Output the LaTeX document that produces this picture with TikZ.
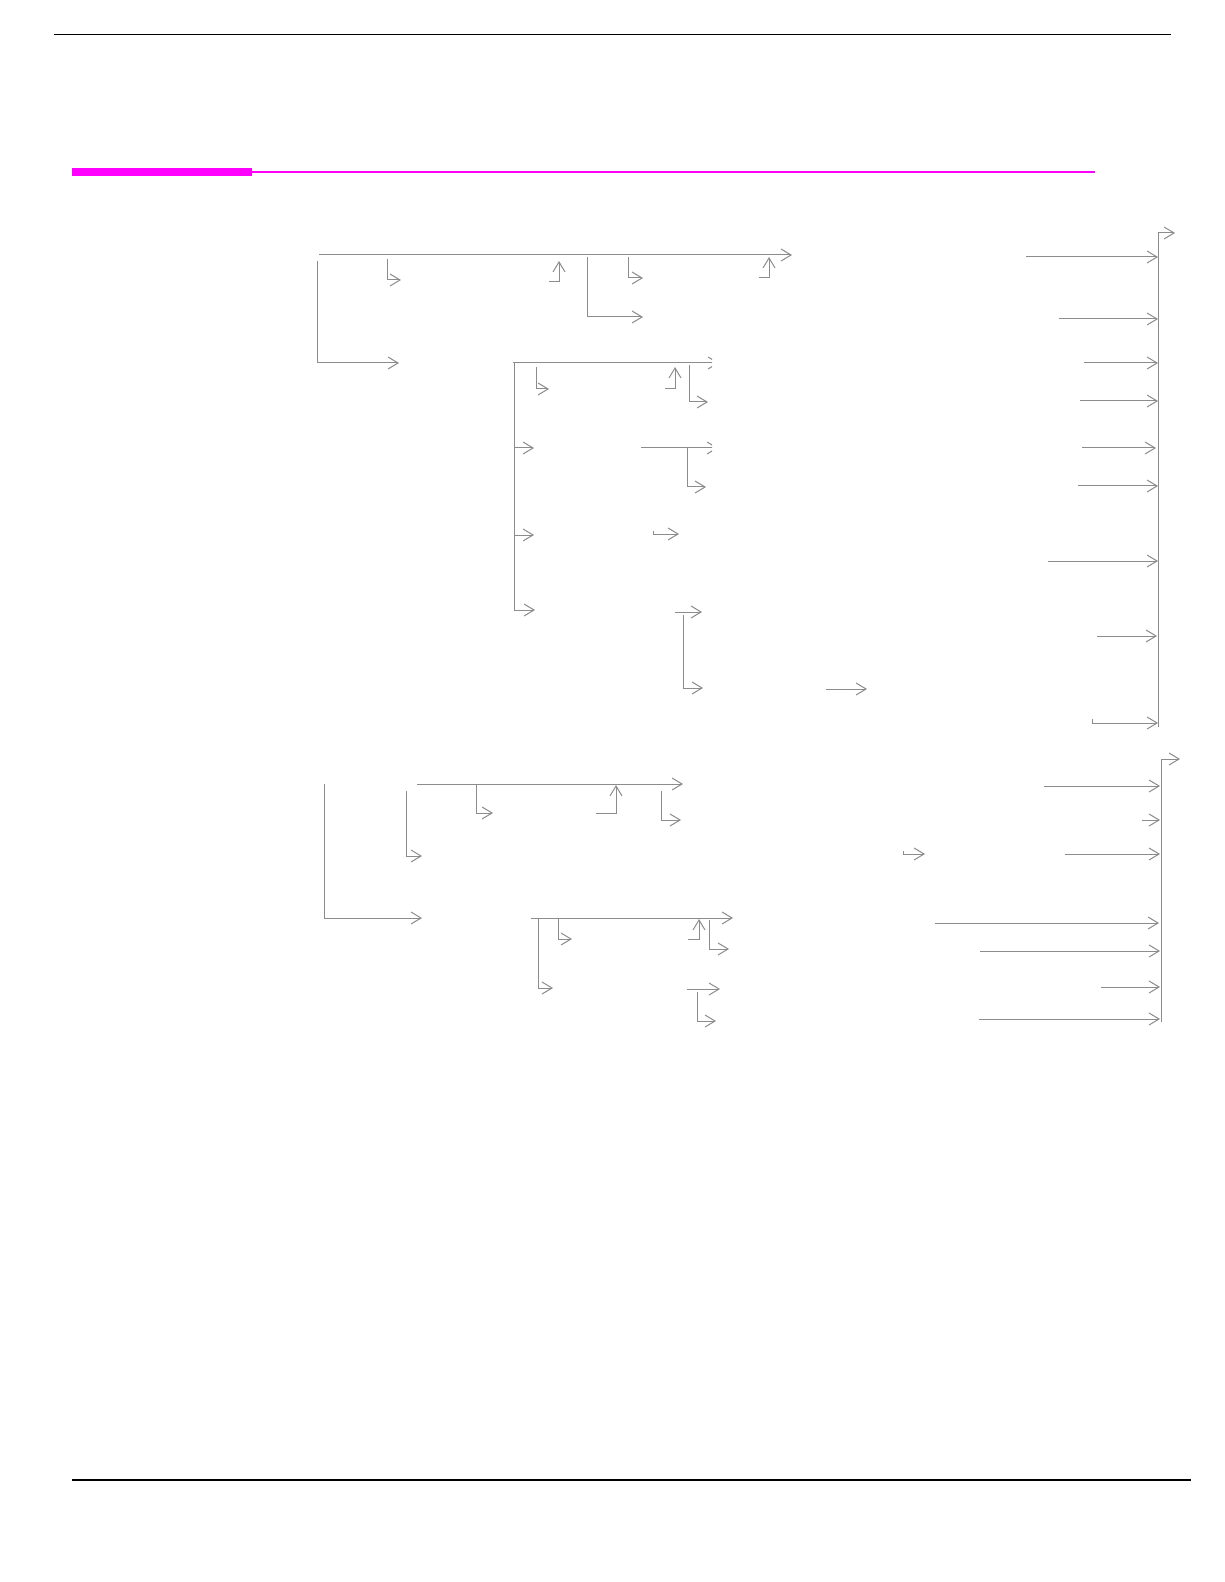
\documentclass[tikz,border=0pt]{standalone}
\usetikzlibrary{arrows.meta}
\definecolor{linegray}{RGB}{140,140,140}
\definecolor{hdrmag}{RGB}{255,0,255}
\begin{document}
\begin{tikzpicture}[x=0.5pt,y=-0.5pt,
  ln/.style={draw=linegray,line width=0.5pt},
  arr/.style={-{Straight Barb[length=5pt,width=6pt,line width=0.5pt]}}]
\useasboundingbox (0,0) rectangle (1224,1582);
% header and footer rules
\draw[black,line width=0.55pt] (54,34.3) -- (1171,34.3);
\fill[hdrmag] (72,168) rectangle (252,175.7);
\draw[hdrmag,line width=1pt] (252,171.7) -- (1095,171.7);
\draw[black,line width=0.55pt] (72,1480) -- (1191,1480);
% ---------- group 1 ----------
\draw[ln,arr] (319,255) -- (792,255);
\draw[ln,arr] (317,261) -- (317,363) -- (399,363);
\draw[ln,arr] (387,259) -- (387,280) -- (401,280);
\draw[ln,arr] (549,282) -- (559,282) -- (559,261);
\draw[ln,arr] (587,257) -- (587,317) -- (643,317);
\draw[ln,arr] (628,257) -- (628,278) -- (643,278);
\draw[ln,arr] (759,278) -- (769,278) -- (769,257);
% second level
\begin{scope}
  \clip (500,340) rectangle (712,460);
  \draw[ln,arr] (513,363) -- (719,363);
  \draw[ln,arr] (641,448) -- (718,448);
\end{scope}
\draw[ln,arr] (514,363) -- (514,610) -- (535,610);
\draw[ln,arr] (514,448) -- (534,448);
\draw[ln,arr] (514,535) -- (534,535);
\draw[ln,arr] (536,367) -- (536,389) -- (549,389);
\draw[ln,arr] (665,389) -- (675,389) -- (675,367);
\draw[ln,arr] (689,365) -- (689,402) -- (708,402);
\draw[ln,arr] (687,448) -- (687,487) -- (706,487);
\draw[ln,arr] (653,531) -- (653,534) -- (679,534);
\draw[ln,arr] (675,612) -- (702,612);
\draw[ln,arr] (683,615) -- (683,688) -- (703,688);
\draw[ln,arr] (826,689) -- (867,689);
% right collector 1
\draw[ln,arr] (1158,727) -- (1158,233) -- (1175,233);
\draw[ln,arr] (1026,257) -- (1158,257);
\draw[ln,arr] (1059,319) -- (1158,319);
\draw[ln,arr] (1084,363) -- (1158,363);
\draw[ln,arr] (1080,401) -- (1158,401);
\draw[ln,arr] (1082,448) -- (1156,448);
\draw[ln,arr] (1078,486) -- (1158,486);
\draw[ln,arr] (1048,561) -- (1158,561);
\draw[ln,arr] (1097,636) -- (1157,636);
\draw[ln,arr] (1092,719) -- (1092,723) -- (1158,723);
% ---------- group 2 ----------
\draw[ln,arr] (324,784) -- (324,918) -- (422,918);
\draw[ln,arr] (417,784) -- (683,784);
\draw[ln,arr] (406,791) -- (406,856) -- (422,856);
\draw[ln,arr] (476,784) -- (476,813) -- (493,813);
\draw[ln,arr] (596,813) -- (616,813) -- (616,785);
\draw[ln,arr] (661,791) -- (661,820) -- (681,820);
\draw[ln,arr] (531,918) -- (733,918);
\draw[ln,arr] (538,918) -- (538,988) -- (553,988);
\draw[ln,arr] (558,918) -- (558,939) -- (572,939);
\draw[ln,arr] (688,939) -- (699,939) -- (699,919);
\draw[ln,arr] (709,920) -- (709,949) -- (729,949);
\draw[ln,arr] (687,989) -- (720,989);
\draw[ln,arr] (697,992) -- (697,1021) -- (716,1021);
% right collector 2
\draw[ln,arr] (1161,1022) -- (1161,759) -- (1180,759);
\draw[ln,arr] (1044,786) -- (1160,786);
\draw[ln,arr] (1142,820) -- (1160,820);
\draw[ln,arr] (1065,854) -- (1160,854);
\draw[ln,arr] (903,851) -- (903,854) -- (925,854);
\draw[ln,arr] (935,923) -- (1159,923);
\draw[ln,arr] (980,951) -- (1160,951);
\draw[ln,arr] (1101,987) -- (1160,987);
\draw[ln,arr] (979,1019) -- (1160,1019);
\end{tikzpicture}
\end{document}
